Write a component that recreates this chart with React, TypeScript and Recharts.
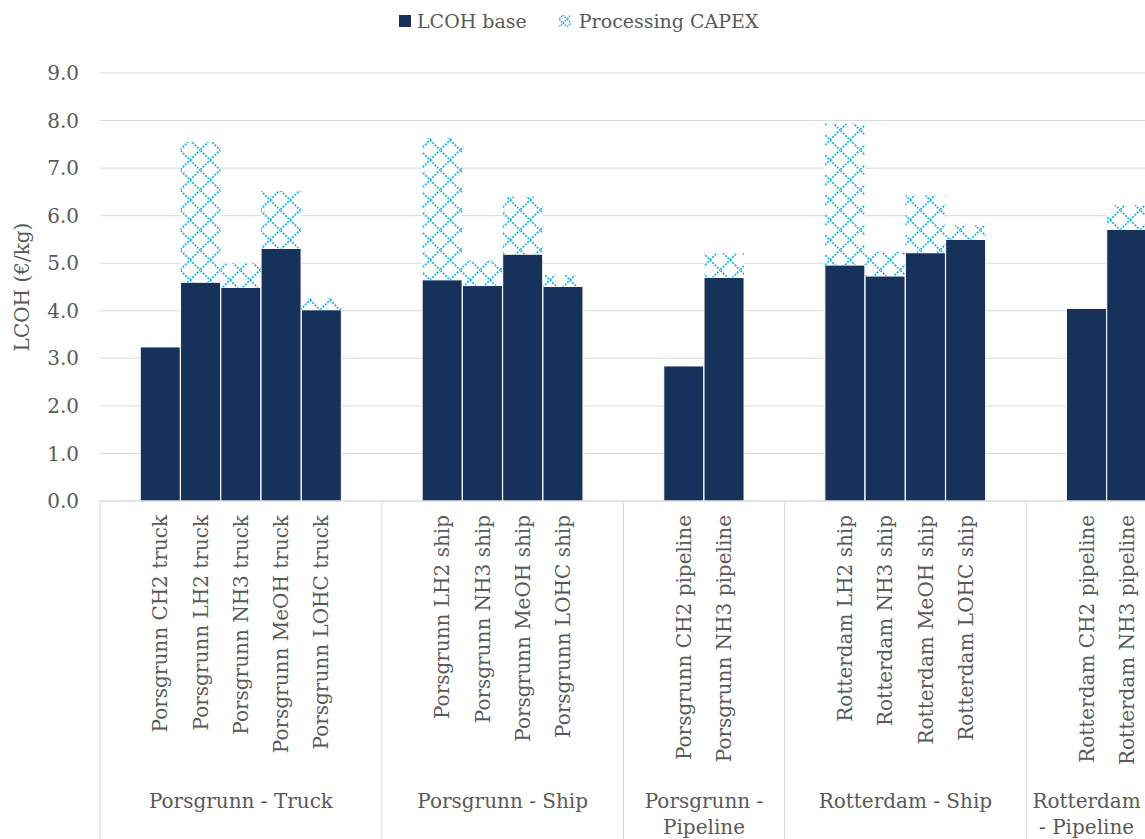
import { BarChart, Bar, XAxis, YAxis, CartesianGrid } from 'recharts'

const categories = [
  'Porsgrunn CH2 truck',
  'Porsgrunn LH2 truck',
  'Porsgrunn NH3 truck',
  'Porsgrunn MeOH truck',
  'Porsgrunn LOHC truck',
  'Porsgrunn LH2 ship',
  'Porsgrunn NH3 ship',
  'Porsgrunn MeOH ship',
  'Porsgrunn LOHC ship',
  'Porsgrunn CH2 pipeline',
  'Porsgrunn NH3 pipeline',
  'Rotterdam LH2 ship',
  'Rotterdam NH3 ship',
  'Rotterdam MeOH ship',
  'Rotterdam LOHC ship',
  'Rotterdam CH2 pipeline',
  'Rotterdam NH3 pipeline',
]

const baseCost = [3.24, 4.6, 4.49, 5.31, 4.02, 4.65, 4.53, 5.19, 4.51, 2.84, 4.7, 4.96, 4.73, 5.22, 5.5, 4.05, 5.71]
const processingCapex = [0, 2.95, 0.51, 1.21, 0.24, 2.98, 0.52, 1.21, 0.24, 0, 0.51, 2.98, 0.51, 1.21, 0.3, 0, 0.51]

const groupNames = [
  ['Porsgrunn - Truck'],
  ['Porsgrunn - Ship'],
  ['Porsgrunn -', 'Pipeline'],
  ['Rotterdam - Ship'],
  ['Rotterdam', '- Pipeline'],
]
const groupSizes = [5, 4, 2, 4, 2]

const yTicks = [0, 1, 2, 3, 4, 5, 6, 7, 8, 9]

type Row = {
  label: string
  base?: number
  capex?: number
  group?: number
  slots?: number
}

// each group gets an empty slot in front, and one behind except the last group
const rows: Row[] = []
let k = 0
groupNames.forEach((_, g) => {
  const last = g === groupNames.length - 1
  rows.push({ label: '', group: g, slots: groupSizes[g] + (last ? 1 : 2) })
  for (let i = 0; i < groupSizes[g]; i++) {
    rows.push({ label: categories[k], base: baseCost[k], capex: processingCapex[k] })
    k++
  }
  if (!last) rows.push({ label: '' })
})

const CHART_W = 1147
const CHART_H = 839
const PLOT_LEFT = 100
const SLOT = (CHART_W - PLOT_LEFT) / rows.length

const FONT = '"DejaVu Serif", serif'
const FONT_SIZE = 20
const TEXT = '#595959'
const GRID = '#D9D9D9'
const NAVY = '#17325A'
const CYAN = '#00B0F0'

function CategoryTick(props: any) {
  const { x, y, payload } = props
  const row = rows[payload.index]
  if (!row) return null
  const ty = y + 14
  const left = x - SLOT / 2
  return (
    <g>
      {row.label && (
        <text
          x={x}
          y={ty}
          transform={`rotate(-90, ${x}, ${ty})`}
          textAnchor="end"
          dy="0.35em"
          fill={TEXT}
          fontSize={FONT_SIZE}
          fontFamily={FONT}
        >
          {row.label}
        </text>
      )}
      {row.group !== undefined && (
        <>
          <line x1={left} y1={y} x2={left} y2={y + 400} stroke={GRID} strokeWidth={1} />
          {groupNames[row.group].map((line, i) => (
            <text
              key={i}
              x={left + ((row.slots ?? 1) * SLOT) / 2}
              y={y + 307 + i * 26}
              textAnchor="middle"
              fill={TEXT}
              fontSize={FONT_SIZE}
              fontFamily={FONT}
            >
              {line}
            </text>
          ))}
        </>
      )}
    </g>
  )
}

function PatternSwatch() {
  return (
    <svg width={12} height={12} style={{ display: 'block' }}>
      <defs>
        <pattern id="capexSwatch" width={8} height={8} patternUnits="userSpaceOnUse">
          <rect width={8} height={8} fill="#fff" />
          <path d="M4 0 L8 4 L4 8 L0 4 Z" fill="none" stroke={CYAN} strokeWidth={1.3} strokeDasharray="1.5 1" />
        </pattern>
      </defs>
      <rect width={12} height={12} fill="url(#capexSwatch)" />
    </svg>
  )
}

export default function App() {
  return (
    <div
      style={{
        position: 'fixed',
        left: 0,
        top: 0,
        width: 1145,
        height: 839,
        overflow: 'hidden',
        background: '#fff',
        fontFamily: FONT,
      }}
    >
      <div
        style={{
          position: 'absolute',
          left: 399,
          top: 10,
          display: 'flex',
          alignItems: 'center',
          fontSize: 19,
          color: TEXT,
          whiteSpace: 'nowrap',
        }}
      >
        <span style={{ width: 12, height: 12, background: NAVY, display: 'inline-block', marginRight: 6 }} />
        <span>LCOH base</span>
        <span style={{ marginLeft: 32, marginRight: 8 }}>
          <PatternSwatch />
        </span>
        <span>Processing CAPEX</span>
      </div>
      <BarChart
        width={CHART_W}
        height={CHART_H}
        data={rows}
        margin={{ top: 73, right: 0, bottom: 0, left: 0 }}
        barCategoryGap={0}
      >
        <defs>
          <pattern id="capexPattern" width={20} height={20} patternUnits="userSpaceOnUse">
            <rect width={20} height={20} fill="#fff" />
            <path
              d="M10 0 L20 10 L10 20 L0 10 Z"
              fill="none"
              stroke={CYAN}
              strokeWidth={1.6}
              strokeDasharray="2 1.3"
            />
          </pattern>
        </defs>
        <CartesianGrid vertical={false} stroke={GRID} strokeWidth={1} />
        <XAxis
          dataKey="label"
          interval={0}
          height={CHART_H - 73 - 428}
          tickLine={false}
          tickSize={0}
          tickMargin={0}
          axisLine={{ stroke: GRID }}
          tick={<CategoryTick />}
        />
        <YAxis
          width={PLOT_LEFT}
          domain={[0, 9]}
          ticks={yTicks}
          tickFormatter={(v: number) => v.toFixed(1)}
          axisLine={false}
          tickLine={false}
          tick={{ fill: TEXT, fontSize: FONT_SIZE, fontFamily: FONT, dx: -13 }}
          label={{
            value: 'LCOH (€/kg)',
            angle: -90,
            position: 'insideLeft',
            offset: 22,
            style: { textAnchor: 'middle', fill: TEXT, fontSize: FONT_SIZE, fontFamily: FONT },
          }}
        />
        <Bar dataKey="base" stackId="a" fill={NAVY} stroke="#fff" strokeWidth={1} isAnimationActive={false} />
        <Bar dataKey="capex" stackId="a" fill="url(#capexPattern)" isAnimationActive={false} />
      </BarChart>
    </div>
  )
}
